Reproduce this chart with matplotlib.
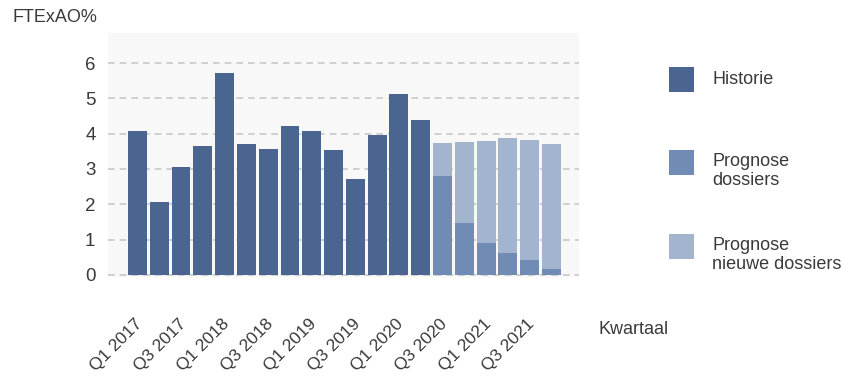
import numpy as np
import matplotlib
matplotlib.use('Agg')
import matplotlib.pyplot as plt
import matplotlib.transforms as mtransforms
from matplotlib.patches import Rectangle

plt.rcParams['font.family'] = ['Liberation Sans Narrow', 'Liberation Sans', 'DejaVu Sans']

# kwartalen 2017 t/m 2021
quarters = ['Q%d %d' % (q, y) for y in range(2017, 2022) for q in range(1, 5)]

historie = [4.07, 2.05, 3.05, 3.64, 5.73, 3.70, 3.56, 4.21, 4.07, 3.53,
            2.71, 3.96, 5.12, 4.38]
prognose_dossiers = [2.79, 1.46, 0.89, 0.61, 0.41, 0.18]
prognose_totaal = [3.73, 3.76, 3.79, 3.87, 3.81, 3.70]
prognose_nieuw = [t - d for t, d in zip(prognose_totaal, prognose_dossiers)]

legend_labels = ['Historie', 'Prognose\ndossiers', 'Prognose\nnieuwe dossiers']
c_hist = '#4a6690'
c_dos = '#718cb4'
c_new = '#a3b4cf'
txt = '#3a3a3a'

fig = plt.figure(figsize=(8.51, 3.76), dpi=100)
ax = fig.add_axes([108 / 851, 1 - 277 / 376, (579 - 108) / 851, (277 - 33) / 376])
ax.set_facecolor('#f8f8f8')

x_hist = np.arange(len(historie))
x_prog = np.arange(len(historie), len(quarters))
w = 0.87
ax.bar(x_hist, historie, width=w, color=c_hist, zorder=3)
ax.bar(x_prog, prognose_dossiers, width=w, color=c_dos, zorder=3)
ax.bar(x_prog, prognose_nieuw, width=w, bottom=prognose_dossiers, color=c_new, zorder=3)

ax.set_xlim(-1.35, len(quarters) - 1 + 1.26)
ax.set_ylim(-0.06, 6.85)
ax.set_yticks(range(0, 7))
ax.yaxis.grid(True, linestyle=(0, (4, 3)), color='#c8c8c8', linewidth=1.2, zorder=0)
for s in ax.spines.values():
    s.set_visible(False)
ax.tick_params(axis='y', length=0, pad=9, labelsize=13.5, labelcolor=txt)

ax.set_xticks(range(0, len(quarters), 2))
ax.set_xticklabels(quarters[::2], rotation=45, ha='right', va='top',
                   rotation_mode='anchor', fontsize=12.5, color=txt)
ax.tick_params(axis='x', length=0, pad=28)
shift = mtransforms.ScaledTranslation(-3 / 100, 0, fig.dpi_scale_trans)
for lbl in ax.get_xticklabels():
    lbl.set_transform(lbl.get_transform() + shift)

fig.text(12 / 851, 1 - 17 / 376, 'FTExAO%', fontsize=13, color=txt, va='center')
fig.text(598 / 851, 1 - 330 / 376, 'Kwartaal', fontsize=13, color=txt, va='center')

# legenda
for lab, col, yc in zip(legend_labels, [c_hist, c_dos, c_new], [79.5, 162.5, 246]):
    fig.patches.append(Rectangle((669 / 851, 1 - (yc + 12.5) / 376), 25 / 851, 25 / 376,
                                 transform=fig.transFigure, facecolor=col,
                                 edgecolor='none'))
    fig.text(712 / 851, 1 - (yc - 9) / 376, lab, fontsize=13, color=txt,
             va='top', linespacing=1.15)

fig.savefig('out.png', dpi=100)
